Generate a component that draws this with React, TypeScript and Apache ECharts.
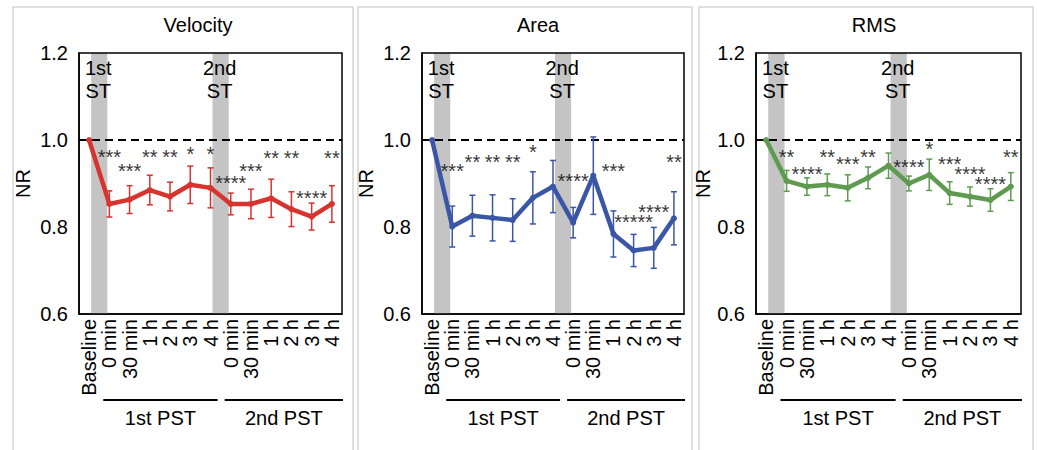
import React, { useEffect, useRef } from "react";
import * as echarts from "echarts";

const CATEGORIES = ["Baseline", "0 min", "30 min", "1 h", "2 h", "3 h", "4 h", "0 min", "30 min", "1 h", "2 h", "3 h", "4 h"];
const Y_TICKS = [0.6, 0.8, 1.0, 1.2];
const TITLES = ["Velocity", "Area", "RMS"];
const COLORS = ["#D7342F", "#3A56A6", "#5E9B50"];

const VELOCITY_MEAN = [1.0, 0.853, 0.863, 0.885, 0.870, 0.897, 0.890, 0.853, 0.853, 0.866, 0.841, 0.824, 0.853];
const VELOCITY_SEM = [0, 0.030, 0.032, 0.034, 0.033, 0.043, 0.046, 0.025, 0.034, 0.044, 0.040, 0.031, 0.042];
const VELOCITY_STARS = ["", "***", "***", "**", "**", "*", "*", "****", "***", "**", "**", "****", "**"];
const VELOCITY_STAR_Y = [0, 0.966, 0.934, 0.966, 0.966, 0.973, 0.973, 0.906, 0.934, 0.964, 0.964, 0.872, 0.964];

const AREA_MEAN = [1.0, 0.801, 0.826, 0.821, 0.816, 0.867, 0.893, 0.810, 0.918, 0.784, 0.746, 0.752, 0.820];
const AREA_SEM = [0, 0.047, 0.047, 0.053, 0.049, 0.060, 0.060, 0.035, 0.089, 0.053, 0.037, 0.047, 0.061];
const AREA_STARS = ["", "***", "**", "**", "**", "*", "", "****", "", "***", "*****", "****", "**"];
const AREA_STAR_Y = [0, 0.933, 0.954, 0.954, 0.954, 0.978, 0, 0.910, 0, 0.933, 0.817, 0.840, 0.954];

const RMS_MEAN = [1.0, 0.906, 0.893, 0.897, 0.890, 0.913, 0.941, 0.900, 0.920, 0.878, 0.870, 0.862, 0.893];
const RMS_SEM = [0, 0.024, 0.020, 0.025, 0.030, 0.025, 0.029, 0.017, 0.036, 0.026, 0.022, 0.026, 0.032];
const RMS_STARS = ["", "**", "****", "**", "***", "**", "", "****", "*", "***", "****", "****", "**"];
const RMS_STAR_Y = [0, 0.965, 0.926, 0.965, 0.949, 0.965, 0, 0.943, 0.983, 0.949, 0.926, 0.904, 0.965];

const ST_INDEX = [0, 6];
const ST_LABELS = ["1st\nST", "2nd\nST"];
const PST_LABELS = ["1st PST", "2nd PST"];
const PST_START = [0.7, 6.7];
const PST_END = [6.35, 12.55];

const FONT = "Liberation Sans, Arial, sans-serif";

const PANELS = [
  { mean: VELOCITY_MEAN, sem: VELOCITY_SEM, stars: VELOCITY_STARS, starY: VELOCITY_STAR_Y },
  { mean: AREA_MEAN, sem: AREA_SEM, stars: AREA_STARS, starY: AREA_STAR_Y },
  { mean: RMS_MEAN, sem: RMS_SEM, stars: RMS_STARS, starY: RMS_STAR_Y },
];

const GRID_LAYOUT = [
  { left: 79, width: 263, nameGap: 46, titleX: 198, box: [13, 353] },
  { left: 422, width: 262, nameGap: 46, titleX: 538, box: [358, 692] },
  { left: 756, width: 265, nameGap: 36, titleX: 874, box: [699, 1033] },
];

export default function App() {
  const ref = useRef<HTMLDivElement>(null);

  useEffect(() => {
    if (!ref.current) return;
    const chart = echarts.init(ref.current, null, { renderer: "svg" });

    const grids: any[] = [];
    const xAxes: any[] = [];
    const yAxes: any[] = [];
    const series: any[] = [];
    const graphics: any[] = [];

    PANELS.forEach((p, k) => {
      const g = GRID_LAYOUT[k];
      const color = COLORS[k];
      graphics.push({
        type: "rect",
        shape: { x: g.box[0], y: 7, width: g.box[1] - g.box[0], height: 460 },
        style: { fill: "none", stroke: "#d6d6d6", lineWidth: 1.5 },
        z: 0,
      });
      graphics.push({
        type: "text",
        x: g.titleX,
        y: 25,
        style: { text: TITLES[k], fontSize: 20, fontFamily: FONT, fill: "#000", textAlign: "center", textVerticalAlign: "middle" },
      });
      grids.push({ left: g.left, top: 53, width: g.width, height: 261, show: true, borderColor: "#000", borderWidth: 1.5, backgroundColor: "transparent", z: 5 });
      xAxes.push({
        type: "category",
        gridIndex: k,
        data: CATEGORIES,
        boundaryGap: true,
        axisLine: { show: true, lineStyle: { color: "#000", width: 1.5 } },
        axisTick: { show: false },
        axisLabel: { interval: 0, rotate: 90, fontSize: 20, fontFamily: FONT, color: "#000", margin: 5 },
        splitLine: { show: false },
      });
      yAxes.push({
        type: "value",
        gridIndex: k,
        min: Y_TICKS[0],
        max: Y_TICKS[Y_TICKS.length - 1],
        interval: 0.2,
        name: "NR",
        nameLocation: "middle",
        nameRotate: 90,
        nameGap: g.nameGap,
        nameTextStyle: { fontSize: 20, fontFamily: FONT, color: "#000" },
        axisLine: { show: true, lineStyle: { color: "#000", width: 1.5 } },
        axisTick: { show: false },
        splitLine: { show: false },
        axisLabel: { fontSize: 20, fontFamily: FONT, color: "#000", margin: 11, formatter: (v: number) => v.toFixed(1) },
      });

      // gray ST bands with labels
      series.push({
        type: "custom",
        xAxisIndex: k,
        yAxisIndex: k,
        z: 1,
        silent: true,
        data: ST_INDEX.map((idx, j) => [idx, 1.0, j]),
        renderItem: (params: any, api: any) => {
          const cs = params.coordSys;
          const bw = api.size([1, 0])[0];
          const cx = api.coord([api.value(0), 1.0])[0] + bw / 2;
          return {
            type: "group",
            children: [
              { type: "rect", shape: { x: cx - 0.4 * bw, y: cs.y, width: 0.8 * bw, height: cs.height }, style: { fill: "#c4c4c4" } },
              {
                type: "text",
                x: cx - 1,
                y: cs.y + 3,
                style: { text: ST_LABELS[api.value(2)], fontSize: 20, lineHeight: 23, fontFamily: FONT, fill: "#000", textAlign: "center", textVerticalAlign: "top" },
              },
            ],
          };
        },
      });

      // PST group lines under the axis
      series.push({
        type: "custom",
        xAxisIndex: k,
        yAxisIndex: k,
        z: 1,
        silent: true,
        clip: false,
        data: PST_START.map((s, j) => [0, 1.0, s, PST_END[j], j]),
        renderItem: (params: any, api: any) => {
          const cs = params.coordSys;
          const bw = api.size([1, 0])[0];
          const x0 = api.coord([0, 1.0])[0];
          const xs = x0 + api.value(2) * bw;
          const xe = x0 + api.value(3) * bw;
          const y = cs.y + cs.height + 86;
          return {
            type: "group",
            children: [
              { type: "line", shape: { x1: xs, y1: y, x2: xe, y2: y }, style: { stroke: "#000", lineWidth: 2 } },
              {
                type: "text",
                x: (xs + xe) / 2,
                y: y + 18,
                style: { text: PST_LABELS[api.value(4)], fontSize: 20, fontFamily: FONT, fill: "#000", textAlign: "center", textVerticalAlign: "middle" },
              },
            ],
          };
        },
      });

      // error bars
      series.push({
        type: "custom",
        xAxisIndex: k,
        yAxisIndex: k,
        z: 3,
        silent: true,
        data: p.mean.map((m, i) => [i, m - p.sem[i], m + p.sem[i]]).filter((d, i) => p.sem[i] > 0),
        encode: { x: 0, y: [1, 2] },
        renderItem: (params: any, api: any) => {
          const lo = api.coord([api.value(0), api.value(1)]);
          const hi = api.coord([api.value(0), api.value(2)]);
          const cap = 3;
          const st = { stroke: color, lineWidth: 1.5 };
          return {
            type: "group",
            children: [
              { type: "line", shape: { x1: lo[0], y1: lo[1], x2: hi[0], y2: hi[1] }, style: st },
              { type: "line", shape: { x1: lo[0] - cap, y1: lo[1], x2: lo[0] + cap, y2: lo[1] }, style: st },
              { type: "line", shape: { x1: hi[0] - cap, y1: hi[1], x2: hi[0] + cap, y2: hi[1] }, style: st },
            ],
          };
        },
      });

      // main line
      series.push({
        type: "line",
        xAxisIndex: k,
        yAxisIndex: k,
        z: 4,
        data: p.mean,
        symbol: "circle",
        symbolSize: 6,
        showSymbol: true,
        itemStyle: { color },
        lineStyle: { color, width: 4.5 },
        markLine: {
          silent: true,
          symbol: ["none", "none"],
          label: { show: false },
          lineStyle: { color: "#000", type: [8, 5], width: 2 },
          data: [{ yAxis: 1.0 }],
          z: 2,
        },
      });

      // significance stars
      series.push({
        type: "scatter",
        xAxisIndex: k,
        yAxisIndex: k,
        z: 6,
        silent: true,
        symbolSize: 0,
        data: p.stars.map((s, i) => [i, p.starY[i]]).filter((d, i) => p.stars[i] !== ""),
        label: {
          show: true,
          position: "inside",
          offset: [0, 2],
          fontSize: 20,
          fontFamily: FONT,
          color: "#000",
          formatter: (q: any) => p.stars[q.data[0]],
        },
      });
    });

    chart.setOption({
      animation: false,
      backgroundColor: "#fff",
      grid: grids,
      xAxis: xAxes,
      yAxis: yAxes,
      series,
      graphic: graphics,
    });

    return () => chart.dispose();
  }, []);

  return <div ref={ref} style={{ position: "absolute", left: 0, top: 0, width: 1037, height: 450 }} />;
}
